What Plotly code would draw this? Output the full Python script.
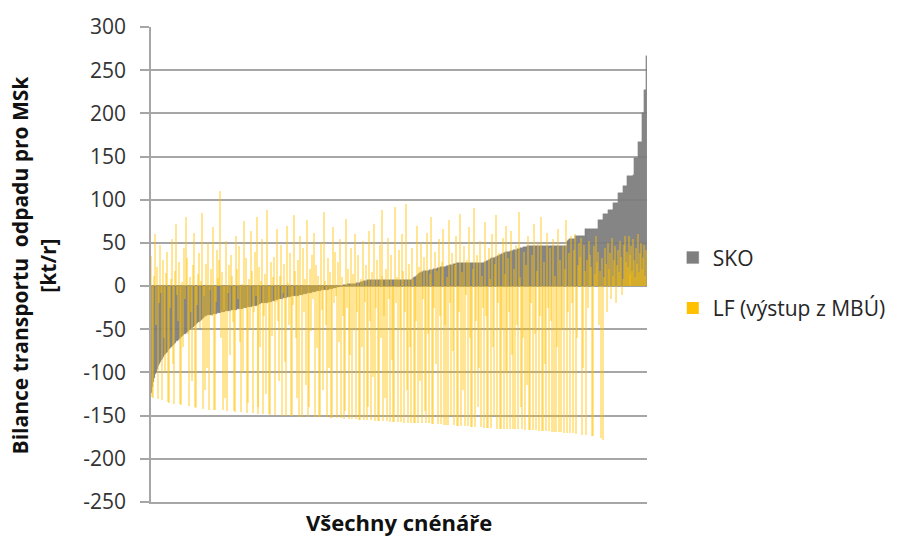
import plotly.graph_objects as go

# Waste transport balance for the Moravian-Silesian region, one bar per scenario
SKO = [
    -124, -117, -111, -106, -102, -99, -96, -93, -90, -88,
    -86, -84, -82, -80, -79, -77, -76, -74, -73, -72,
    -70, -69, -68, -67, -66, -64, -63, -62, -61, -60,
    -59, -58, -57, -56, -55, -54, -53, -52, -51, -50,
    -49, -48, -47, -46, -45, -44, -43, -42, -41, -40,
    -39, -38, -37, -36, -35, -35, -34, -34, -33, -33,
    -33, -33, -32, -32, -32, -32, -32, -31, -31, -31,
    -31, -30, -30, -30, -30, -29, -29, -29, -29, -29,
    -29, -28, -28, -28, -28, -28, -28, -27, -27, -27,
    -26, -26, -26, -25, -25, -25, -25, -24, -24, -24,
    -24, -24, -23, -23, -23, -23, -23, -22, -22, -21,
    -21, -20, -20, -20, -20, -19, -19, -19, -18, -18,
    -18, -18, -17, -17, -17, -16, -16, -16, -15, -15,
    -15, -15, -15, -14, -14, -14, -14, -13, -13, -13,
    -13, -12, -12, -12, -12, -11, -11, -11, -11, -10,
    -10, -10, -10, -9, -9, -9, -9, -8, -8, -8,
    -8, -8, -7, -7, -7, -7, -6, -6, -6, -6,
    -6, -5, -5, -5, -5, -4, -4, -4, -4, -3,
    -3, -3, -3, -2, -2, -2, -2, -1, -1, -1,
    -1, 0, 0, 0, 1, 1, 1, 1, 2, 2,
    2, 2, 3, 3, 3, 3, 3, 4, 4, 4,
    4, 5, 5, 5, 6, 6, 6, 6, 7, 7,
    7, 7, 7, 7, 7, 7, 7, 7, 7, 7,
    7, 7, 7, 7, 7, 7, 7, 7, 7, 7,
    7, 7, 7, 7, 7, 7, 7, 7, 7, 7,
    7, 7, 7, 7, 7, 7, 7, 7, 7, 7,
    7, 7, 7, 8, 9, 10, 11, 12, 13, 14,
    15, 15, 16, 16, 17, 17, 18, 18, 18, 18,
    19, 19, 19, 19, 20, 20, 20, 20, 21, 21,
    21, 22, 22, 22, 22, 22, 22, 23, 23, 23,
    24, 24, 25, 25, 26, 26, 26, 27, 27, 27,
    27, 27, 27, 27, 27, 27, 27, 27, 27, 27,
    27, 27, 27, 27, 27, 27, 27, 27, 27, 27,
    27, 27, 27, 27, 27, 27, 28, 28, 29, 29,
    30, 30, 31, 32, 32, 33, 33, 34, 34, 35,
    35, 36, 36, 37, 37, 38, 38, 39, 39, 40,
    40, 40, 41, 41, 41, 42, 42, 42, 42, 43,
    43, 43, 44, 44, 44, 45, 45, 45, 45, 46,
    46, 46, 47, 47, 47, 47, 47, 47, 47, 47,
    47, 47, 47, 47, 47, 47, 47, 47, 47, 47,
    47, 47, 47, 47, 47, 47, 47, 47, 47, 47,
    47, 47, 47, 47, 47, 47, 47, 47, 47, 52,
    53, 54, 54, 54, 54, 54, 54, 58, 58, 58,
    58, 58, 58, 58, 58, 58, 58, 66, 66, 66,
    66, 66, 66, 66, 66, 66, 66, 66, 66, 66,
    66, 76, 76, 76, 76, 76, 84, 84, 84, 84,
    84, 88, 88, 88, 88, 88, 96, 96, 96, 96,
    96, 108, 108, 108, 108, 108, 116, 116, 116, 116,
    127, 127, 127, 127, 127, 127, 129, 148, 148, 148,
    148, 167, 167, 167, 167, 200, 200, 227, 227, 267,
]

LF = [
    35, -128, -130, 12, 60, -45, 22, -131, -20, 48,
    -8, -132, 30, -60, -100, 15, 40, -134, -135, -25,
    8, 55, -90, -136, 18, 72, -10, -40, 28, -137,
    -138, 5, -70, 44, -15, 80, 33, -55, -139, 10,
    -30, -110, 25, 62, -140, -141, -22, 14, 38, -48,
    6, 85, -142, -12, -120, 26, -95, 50, -143, -5,
    20, -35, 68, -143, -144, -18, 42, 9, 30, 110,
    -60, 16, -144, -28, -130, 52, -145, -8, 24, -80,
    36, 12, -42, -145, -146, 58, 20, -15, 46, -65,
    -146, 3, -100, 75, -25, 32, -147, -135, 8, -50,
    64, 18, -147, -30, 40, -12, 80, -140, -148, 22,
    -70, 6, 55, -148, -35, 14, -125, 88, -20, -148,
    -149, 28, -58, 10, 34, -149, -18, 66, -40, -110,
    12, 48, -150, -8, 26, -88, -150, 70, 4, -45,
    38, -150, -150, -22, 82, 18, -60, -130, 30, -151,
    58, -10, -151, 44, -30, 8, -115, 76, -151, -140,
    20, -52, 36, -15, 62, -152, 24, -72, 12, -152,
    -152, 50, -28, -120, 86, 6, -45, -152, 32, -95,
    16, -153, -153, 68, -20, 40, -12, -153, 28, -65,
    54, -153, 10, -35, -154, -145, 78, -25, 20, -154,
    -80, 44, -154, 14, -50, 60, -154, -30, 36, -155,
    -155, 8, -70, 52, -155, -18, 24, -155, -140, 64,
    -40, -155, 16, -105, 72, -156, -25, 30, -156, -156,
    48, -60, 12, 88, -156, -35, -130, 20, -156, 56,
    -15, -157, 36, -85, -157, -157, 92, -20, 10, -157,
    42, -50, -157, 60, 18, -158, -30, 95, -120, -158,
    26, -70, -158, 44, 8, -158, -158, -40, 70, -159,
    22, -110, 50, -159, -15, 34, -145, -159, 62, -55,
    -159, 14, 80, -160, -160, -25, 40, -90, 18, -160,
    54, -35, -160, 28, 66, -161, -45, -161, 10, -161,
    76, -20, -150, 38, -75, -161, 24, 58, -162, -162,
    -30, 84, -162, 16, -120, 46, -162, -10, 30, -162,
    68, -60, -163, -163, 20, 90, -163, -40, 36, -140,
    -95, 52, -163, 12, -25, -164, 74, -35, -164, -164,
    44, 8, -164, 60, -70, -150, 26, 82, -165, -20,
    38, -165, -165, -50, 56, -165, 14, -100, 70, -165,
    32, -30, -166, 64, -80, -166, 20, -166, 48, -45,
    -166, 86, 10, -140, -166, -60, 40, -167, 24, -115,
    58, -167, -167, -20, 36, -167, 72, -55, -167, 18,
    50, -168, -35, 80, -168, -168, 28, -90, -168, 62,
    -25, -168, 44, -40, -169, 54, -169, 12, -169, -70,
    66, -169, 30, -169, -50, 46, -170, 20, 76, -170,
    -30, 38, -170, 58, -20, -170, 42, 60, -171, -60,
    24, 50, 34, 56, -172, -95, 48, 18, -172, 30,
    -25, 52, 36, 22, -173, -173, 46, 14, 58, 28,
    40, -45, 18, -176, 32, -178, 10, 44, 26, -30,
    50, 20, 38, -15, 56, 12, 30, 46, -20, 24,
    42, 16, 52, 34, -10, 8, 48, 58, 28, 40,
    22, 58, 14, 36, 46, 18, 54, 30, 10, 44,
    26, 60, 16, 38, 50, 20, 32, 48, 12, 42,
]

Y_TICKS = [-250, -200, -150, -100, -50, 0, 50, 100, 150, 200, 250, 300]
Y_TICK_TEXT = ["-250", "-200", "-150", "-100", "-50", "0",
               "50", "100", "150", "200", "250", "300"]

scenarios = list(range(len(SKO)))

FONT = "Open Sans"
GRID = "#A6A6A6"
GRAY = "#7F7F7F"
GOLD = "#FFC000"

fig = go.Figure()
fig.add_trace(go.Bar(
    x=scenarios, y=SKO, name="SKO", legendgroup="sko",
    marker=dict(color=GRAY, line=dict(width=0.3, color=GRAY)),
    width=1.0,
))
fig.add_trace(go.Bar(
    x=scenarios, y=LF, name="LF (výstup z MBÚ)", legendgroup="lf",
    marker=dict(color=GOLD, opacity=0.42, line=dict(width=0)),
    width=1.3,
))

fig.update_layout(
    width=906, height=536,
    margin=dict(l=151, r=259, t=24, b=34),
    paper_bgcolor="white", plot_bgcolor="white",
    barmode="overlay", bargap=0,
    font=dict(family=FONT, size=21, color="#333333"),
    showlegend=True,
    legend=dict(
        x=1.052, y=0.557, xanchor="left", yanchor="top",
        font=dict(family=FONT, size=21, color="#262626"),
        bgcolor="rgba(0,0,0,0)", itemwidth=30, tracegroupgap=20,
        traceorder="grouped",
    ),
    xaxis=dict(
        range=[-0.5, len(SKO) - 0.5], showticklabels=False, ticks="",
        showgrid=False, zeroline=False,
        showline=True, linecolor=GRID, linewidth=1.6,
    ),
    yaxis=dict(
        range=[-250, 300], tickvals=Y_TICKS, ticktext=Y_TICK_TEXT,
        showgrid=True, gridcolor=GRID, gridwidth=1.6,
        zeroline=False, showline=True, linecolor=GRID, linewidth=1.6,
        ticks="outside", ticklen=9, tickcolor=GRID, tickwidth=1.6,
        ticklabelstandoff=10,
        tickfont=dict(family=FONT, size=21, color="#333333"),
    ),
    annotations=[
        dict(
            text="<b>Bilance transportu  odpadu pro MSk<br>[kt/r]</b>",
            xref="paper", yref="paper", x=-0.236, y=0.5,
            xanchor="center", yanchor="middle", textangle=-90,
            showarrow=False,
            font=dict(family=FONT, size=21, color="#111111"),
        ),
        dict(
            text="<b>Všechny cnénáře</b>",
            xref="paper", yref="paper", x=0.5, y=-0.042,
            xanchor="center", yanchor="middle", showarrow=False,
            font=dict(family=FONT, size=22, color="#111111"),
        ),
    ],
)

fig.write_html("out.html")
